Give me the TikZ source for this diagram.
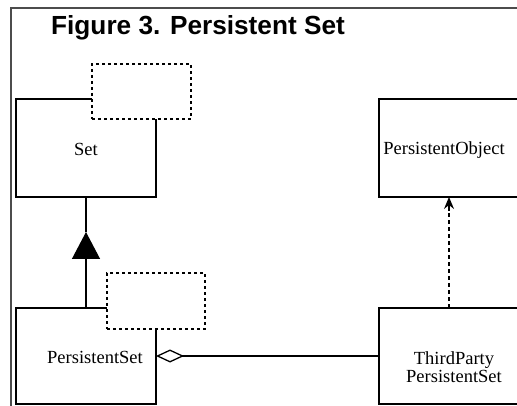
\documentclass[tikz,border=0pt]{standalone}
\usepackage{fontspec}
\setmainfont{Liberation Serif}
\newfontfamily\titlefont{Liberation Sans}
\usetikzlibrary{arrows.meta,calc}
\begin{document}
\begin{tikzpicture}[x=1pt,y=-1pt,
  umlbox/.style={draw=black, line width=1.3pt, fill=white, inner sep=0pt, outer sep=0pt},
  tmplbox/.style={draw=black, line width=1.2pt, fill=white, dash pattern=on 3pt off 3pt,
    inner sep=0pt, outer sep=0pt},
  conn/.style={draw=black, line width=1.3pt},
  framestyle/.style={draw=black!70, line width=2pt},
  txt/.style={font=\fontsize{18.5}{18.5}\selectfont, align=center, inner sep=0pt}]
\useasboundingbox (0,0) rectangle (517,406);
\clip (0,0) rectangle (517,406);
% outer frame
\draw[framestyle] (11,430) -- (11,8) -- (540,8);
% title
\node[anchor=base west, inner sep=0pt, font=\titlefont\bfseries\fontsize{26.2}{30}\selectfont] (title) at (51,35) {Figure 3. Persistent Set};
% class boxes
\node[umlbox, minimum width=140pt, minimum height=98pt,
  label={[txt, yshift=-1pt]center:Set}] (set) at (86,148) {};
\node[tmplbox, minimum width=99pt, minimum height=55pt] (settmpl) at (141.5,91.5) {};
\node[umlbox, minimum width=140pt, minimum height=96pt,
  label={[txt, xshift=9pt, yshift=-1pt]center:PersistentSet}] (ps) at (86,356) {};
\node[tmplbox, minimum width=98pt, minimum height=56pt] (pstmpl) at (156,301) {};
\node[umlbox, minimum width=150pt, minimum height=98pt,
  label={[txt, xshift=-10pt, yshift=-2pt]center:PersistentObject}] (po) at (454,148) {};
\node[umlbox, minimum width=150pt, minimum height=96pt,
  label={[txt, yshift=-11pt]center:ThirdParty\\PersistentSet}] (tp) at (454,356) {};
% generalization
\coordinate (apex) at ($(set.south)+(0,35)$);
\draw[conn] (apex) -- (set.south);
\draw[conn, -{Triangle[length=27pt,width=28pt]}] (ps.north) -- (apex);
% aggregation
\draw[conn, {Diamond[open,length=28pt,width=13pt,fill=white]}-] (ps.east) -- (tp.west);
% dependency
\coordinate (deptip) at ($(po.south)+(-5,0)$);
\draw[conn, dash pattern=on 4pt off 3pt] ($(tp.north)+(-5,0)$) -- ($(deptip)+(0,8)$);
\draw[conn, -{Stealth[length=12pt,width=10pt,inset=4pt]}] ($(deptip)+(0,14)$) -- (deptip);
\end{tikzpicture}
\end{document}
